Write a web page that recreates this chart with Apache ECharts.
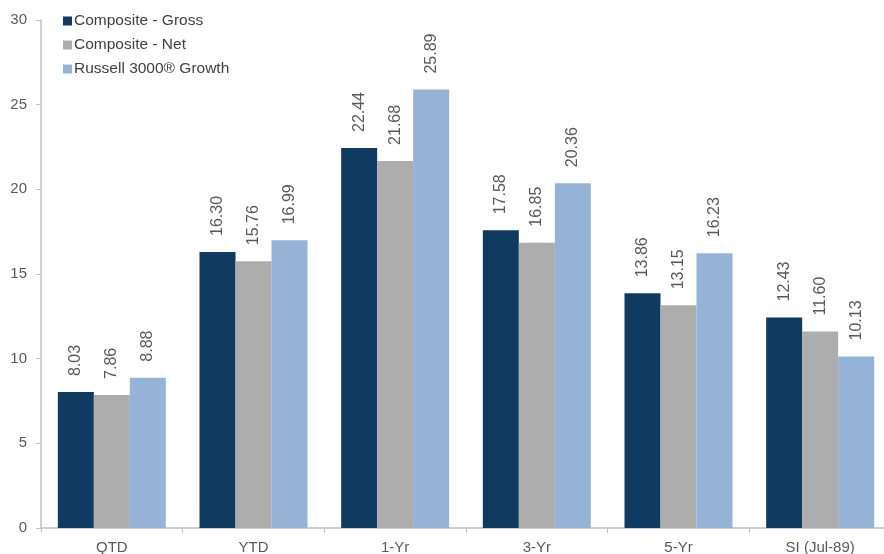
<!DOCTYPE html>
<html>
<head>
<meta charset="utf-8">
<script src="https://cdn.jsdelivr.net/npm/echarts@6/dist/echarts.min.js"></script>
<style>html,body{margin:0;padding:0;background:#fff}#c{width:884px;height:554px}</style>
</head>
<body>
<div id="c"></div>
<script>
var categories = ['QTD', 'YTD', '1-Yr', '3-Yr', '5-Yr', 'SI (Jul-89)'];
var seriesNames = ['Composite - Gross', 'Composite - Net', 'Russell 3000\u00AE Growth'];
var gross = [8.03, 16.30, 22.44, 17.58, 13.86, 12.43];
var net = [7.86, 15.76, 21.68, 16.85, 13.15, 11.60];
var russell = [8.88, 16.99, 25.89, 20.36, 16.23, 10.13];
var colors = ['#0e3b5f', '#adadad', '#95b3d6'];
var FONT = 'Liberation Sans, Arial, sans-serif';

function mk(name, data, color) {
  return {
    name: name, type: 'bar', data: data, barWidth: 36, barGap: '0%',
    itemStyle: { color: color },
    label: {
      show: true, position: 'top', rotate: 90, align: 'left', verticalAlign: 'middle',
      distance: 16, color: '#595959', fontSize: 16, fontFamily: FONT,
      formatter: function (p) { return p.value.toFixed(2); }
    }
  };
}

var chart = echarts.init(document.getElementById('c'), null, { renderer: 'canvas' });
chart.setOption({
  animation: false,
  textStyle: { fontFamily: FONT },
  legend: {
    orient: 'vertical', left: 58, top: 8, itemWidth: 9, itemHeight: 9, itemGap: 8,
    icon: 'rect', textStyle: { color: '#404040', fontSize: 15.5, fontFamily: FONT, padding: [0, 0, 0, -3] },
    data: seriesNames
  },
  grid: { left: 41, width: 850, top: 20, bottom: 26, containLabel: false, outerBoundsMode: 'none' },
  xAxis: {
    type: 'category', data: categories,
    axisLine: { lineStyle: { color: '#bfbfbf', width: 1.5 } },
    axisTick: { show: true, length: 5, lineStyle: { color: '#bfbfbf' } },
    axisLabel: { color: '#595959', fontSize: 15, fontFamily: FONT, margin: 12 }
  },
  yAxis: {
    type: 'value', min: 0, max: 30, interval: 5,
    axisLine: { show: true, lineStyle: { color: '#bfbfbf', width: 1.5 } },
    axisTick: { show: true, length: 5, lineStyle: { color: '#bfbfbf' } },
    splitLine: { show: false },
    axisLabel: { color: '#595959', fontSize: 15, fontFamily: FONT, margin: 14 }
  },
  series: [mk(seriesNames[0], gross, colors[0]), mk(seriesNames[1], net, colors[1]), mk(seriesNames[2], russell, colors[2])]
});
</script>
</body>
</html>
